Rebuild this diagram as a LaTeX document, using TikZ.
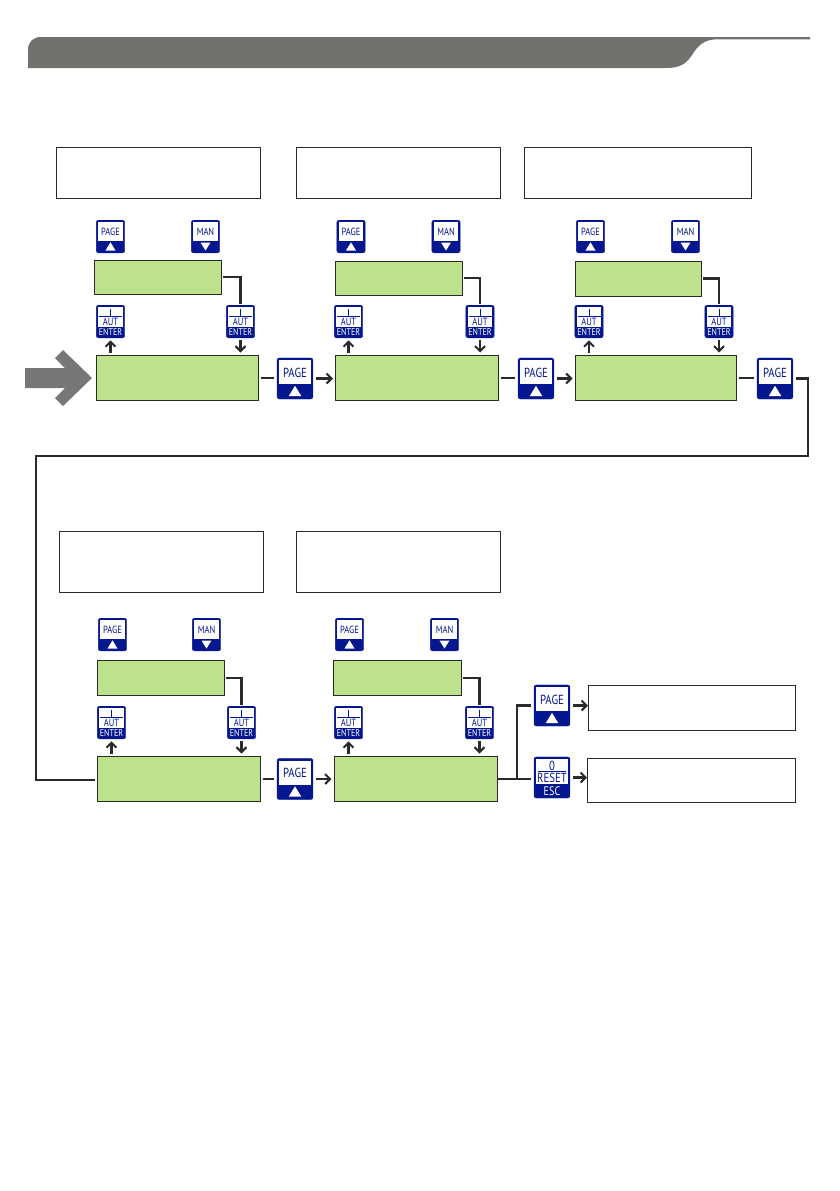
\documentclass[tikz,border=0pt]{standalone}
\usepackage{fontspec}
\usetikzlibrary{arrows.meta}
\newfontfamily\keyf[FakeStretch=0.82]{PT Sans}
\definecolor{keyblue}{HTML}{05178F}
\definecolor{lcdgreen}{HTML}{BDE28B}
\definecolor{ink}{HTML}{2A2A28}
\definecolor{bargray}{HTML}{71716E}
\definecolor{arrowgray}{HTML}{777776}
\tikzset{
  keybase/.style={fill=keyblue,draw=keyblue,line width=.4pt,rounded corners=2.2pt,minimum width=28.4pt,minimum height=32.6pt,inner sep=0pt,outer sep=2.5pt},
  lcd/.style={draw=ink,fill=lcdgreen,line width=1pt,inner sep=0pt,outer sep=2.5pt},
  note/.style={draw=ink,fill=white,line width=1pt,inner sep=0pt},
  conn/.style={draw=ink,line width=2.2pt},
  link/.style={conn,shorten <=-1pt,shorten >=-1pt},
  arr/.style={conn,-{Straight Barb[length=5pt,width=10pt,line width=2pt]}},
  keytxt/.style={keyblue,font=\keyf\fontsize{10.4}{10}\selectfont,inner sep=0pt},
  keylow/.style={white,font=\keyf\fontsize{9.8}{10}\selectfont,inner sep=0pt}
}
% name, cx, cy, scale
\newcommand{\keyPage}[4]{\begin{scope}[shift={(#2,#3)},scale=#4,transform shape]
  \node[keybase] (#1) at (0,0) {};
  \fill[white] (-12.4,-14.4) rectangle (12.4,4.5);
  \fill[white] (-5,14) -- (5,14) -- (0,5.8) -- cycle;
  \node[keytxt] (#1t) at (0,-4.6) {PAGE};
\end{scope}}
\newcommand{\keyMan}[4]{\begin{scope}[shift={(#2,#3)},scale=#4,transform shape]
  \node[keybase] (#1) at (0,0) {};
  \fill[white] (-12.4,-14.4) rectangle (12.4,4.5);
  \fill[white] (-5,6) -- (5,6) -- (0,14) -- cycle;
  \node[keytxt] (#1t) at (0,-4.6) {MAN};
\end{scope}}
\newcommand{\keyAut}[4]{\begin{scope}[shift={(#2,#3)},scale=#4,transform shape]
  \node[keybase] (#1) at (0,0) {};
  \fill[white] (-12.4,-14.4) rectangle (12.4,5.5);
  \draw[keyblue,line width=.6pt] (0,-13) -- (0,-6) (-11.5,-5.2) -- (11.5,-5.2);
  \node[keytxt] (#1t) at (0,0.6) {AUT};
  \node[keylow] (#1l) at (0,10.8) {ENTER};
\end{scope}}
\newcommand{\keyReset}[4]{\begin{scope}[shift={(#2,#3)},scale=#4,transform shape]
  \node[keybase] (#1) at (0,0) {};
  \fill[white] (-12.4,-14.4) rectangle (12.4,5.2);
  \draw[keyblue,line width=.6pt] (-11,-4.8) -- (11,-4.8);
  \node[keytxt] (#1z) at (0,-9.4) {0};
  \node[keytxt] (#1t) at (0,0.7) {RESET};
  \node[keylow] (#1l) at (0,11) {ESC};
\end{scope}}
% name, x0, y0, x1, y1
\newcommand{\lcdbox}[5]{\node[lcd,minimum width={(#4)-(#2)},minimum height={(#5)-(#3)}] (#1) at ({((#2)+(#4))/2},{((#3)+(#5))/2}) {};}
\newcommand{\notebox}[5]{\node[note,minimum width={(#4)-(#2)},minimum height={(#5)-(#3)}] (#1) at ({((#2)+(#4))/2},{((#3)+(#5))/2}) {};}
\begin{document}
\begin{tikzpicture}[x=1pt,y=-1pt]
\path[use as bounding box,fill=white] (0,0) rectangle (839,1191);
% header
\fill[bargray] (28,68) -- (28,50) .. controls (28,42) and (33,37) .. (41,37) -- (810,37) -- (810,39.3) -- (718,39.3)
  .. controls (703,39.3) and (698,46) .. (692,55) .. controls (686,64) and (680,68) .. (666,68) -- cycle;
% big arrow
\fill[arrowgray] (25,368) -- (65,368) -- (55,358) -- (63,350) -- (92,378) -- (63,406) -- (55,398) -- (65,388) -- (25,388) -- cycle;
% note boxes
\notebox{n1}{56.5}{147.5}{260.5}{198.5}
\notebox{n2}{296.5}{147.5}{500.5}{198.5}
\notebox{n3}{524.5}{147.5}{751.5}{198.5}
\notebox{n4}{59.5}{531.5}{263.5}{592.5}
\notebox{n5}{296.5}{531.5}{500.5}{592.5}
\notebox{n6}{588.5}{685.5}{795.5}{730.5}
\notebox{n7}{587.5}{758.5}{795.5}{802.5}
% lcd boxes
\lcdbox{s1}{94.5}{260}{221.5}{294.5}
\lcdbox{s2}{335.5}{261}{462.5}{295.5}
\lcdbox{s3}{575}{261}{701.5}{296}
\lcdbox{s4}{97}{660.5}{224}{695}
\lcdbox{s5}{333.5}{660.5}{461}{695}
\lcdbox{b1}{96.5}{355}{258.5}{400.5}
\lcdbox{b2}{335.5}{355}{498}{400.5}
\lcdbox{b3}{575}{355}{736.5}{400.5}
\lcdbox{b4}{97}{756}{260}{801.5}
\lcdbox{b5}{334}{756}{497}{801.5}
% keys
\keyPage{p1}{110.5}{236.5}{1} \keyMan{m1}{205.5}{236.5}{1}
\keyPage{p2}{351}{236.5}{1}   \keyMan{m2}{446}{236.5}{1}
\keyPage{p3}{590.5}{236.5}{1} \keyMan{m3}{685.5}{236.5}{1}
\keyPage{p4}{112.5}{634.5}{1} \keyMan{m4}{206.5}{634.5}{1}
\keyPage{p5}{349.5}{634.5}{1} \keyMan{m5}{444.5}{634.5}{1}
\keyAut{al1}{110.5}{321.5}{1} \keyAut{ar1}{240.5}{321.5}{1}
\keyAut{al2}{348.5}{321.5}{1} \keyAut{ar2}{480}{321.5}{1}
\keyAut{al3}{589}{321.5}{1}   \keyAut{ar3}{719}{321.5}{1}
\keyAut{al4}{111.5}{722.5}{1} \keyAut{ar4}{241.5}{722.5}{1}
\keyAut{al5}{348.5}{722.5}{1} \keyAut{ar5}{479.5}{722.5}{1}
\keyPage{k1}{295}{378.5}{1.26}
\keyPage{k2}{536}{378.5}{1.26}
\keyPage{k3}{775}{378.5}{1.26}
\keyPage{k4}{295}{779}{1.26}
\keyPage{k5}{552}{705.5}{1.26}
\keyReset{k6}{552}{777.5}{1.26}
% lcd to key links
\foreach \i in {1,...,5}{
  \draw[link] (s\i.east) -| (ar\i.north);
  \draw[arr] (ar\i.south) -- (ar\i.south |- b\i.north);
  \draw[arr] (al\i.south |- b\i.north) -- (al\i.south);
}
% page chain
\draw[conn] (b1.east) -- (b1.east -| k1.west);
\draw[arr] (k1.east) -- (k1.east -| b2.west);
\draw[conn] (b2.east) -- (b2.east -| k2.west);
\draw[arr] (k2.east) -- (k2.east -| b3.west);
\draw[conn] (b3.east) -- (b3.east -| k3.west);
\coordinate (c1) at (808,456);
\coordinate (c2) at (36,456);
\draw[conn,line join=miter] (k3.east) -| (c1) -- (c2) |- ([yshift=-1.5pt]b4.west);
\draw[conn] (b4.east) -- (b4.east -| k4.west);
\draw[arr] (k4.east) -- (k4.east -| b5.west);
\coordinate (c3) at (517,778);
\draw[conn] ([xshift=-2.5pt]b5.east) -- (b5.east -| k6.west);
\draw[conn] (c3) |- (k5.west);
\draw[arr] (k5.east) -- (k5.east -| n6.west);
\draw[arr] (k6.east) -- (k6.east -| n7.west);
\end{tikzpicture}
\end{document}
